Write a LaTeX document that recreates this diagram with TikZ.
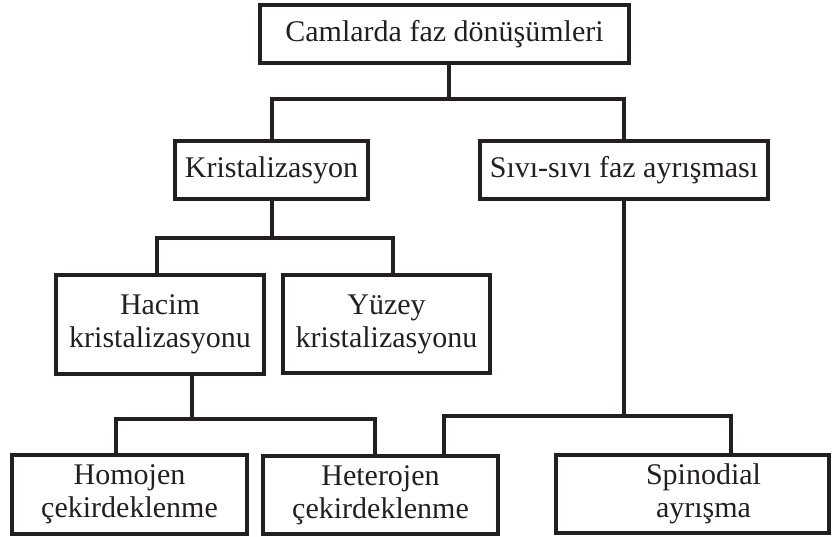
\documentclass[tikz,border=0pt]{standalone}
\usepackage{fontspec}
\setmainfont{Liberation Serif}
\definecolor{ink}{HTML}{231F20}
\begin{document}
\begin{tikzpicture}[x=1pt,y=-1pt,
  box/.style={draw=ink, line width=4pt, inner sep=0pt, align=center, text=ink,
    font=\fontsize{30}{33}\selectfont},
  conn/.style={draw=ink, line width=4pt}]
\useasboundingbox (0,0) rectangle (833,537);
% boxes
\node[box, minimum width=369pt, minimum height=58pt] (top) at (444.5,34) {Camlarda faz dönüşümleri};
\node[box, minimum width=193pt, minimum height=58pt] (kris) at (271.5,170) {Kristalizasyon};
\node[box, minimum width=288pt, minimum height=58pt] (sivi) at (624,170) {Sıvı-sıvı faz ayrışması};
\node[box, minimum width=208pt, minimum height=99pt] (hacim) at (160,324.5) {Hacim\\kristalizasyonu};
\node[box, minimum width=207pt, minimum height=98pt] (yuzey) at (386.5,324) {Yüzey\\kristalizasyonu};
\node[box, minimum width=235pt, minimum height=79pt] (homo) at (129.5,494.5) {Homojen\\çekirdeklenme};
\node[box, minimum width=235pt, minimum height=78pt] (hetero) at (380.5,495) {Heterojen\\çekirdeklenme};
\node[box, minimum width=273pt, minimum height=78pt] (spin) at (692.5,494) {\hspace*{22pt}Spinodial\\\hspace*{22pt}ayrışma};
% junctions
\coordinate (j1) at (449,99);
\coordinate (j2) at (271.5,238);
\coordinate (j3) at (192,419);
\coordinate (j4) at (624,416);
\coordinate (xa) at (157,0);
\coordinate (xb) at (393,0);
\coordinate (xc) at (116,0);
\coordinate (xd) at (375,0);
\coordinate (xe) at (444,0);
\coordinate (xf) at (731,0);
% connectors
\draw[conn] (top.south -| j1) -- (j1);
\draw[conn] (kris.north) |- (j1) -| (sivi.north);
\draw[conn] (kris.south) -- (j2);
\draw[conn] (hacim.north -| xa) |- (j2) -| (yuzey.north -| xb);
\draw[conn] (hacim.south -| j3) -- (j3);
\draw[conn] (homo.north -| xc) |- (j3) -| (hetero.north -| xd);
\draw[conn] (sivi.south) -- (j4);
\draw[conn] (hetero.north -| xe) |- (j4) -| (spin.north -| xf);
\end{tikzpicture}
\end{document}
